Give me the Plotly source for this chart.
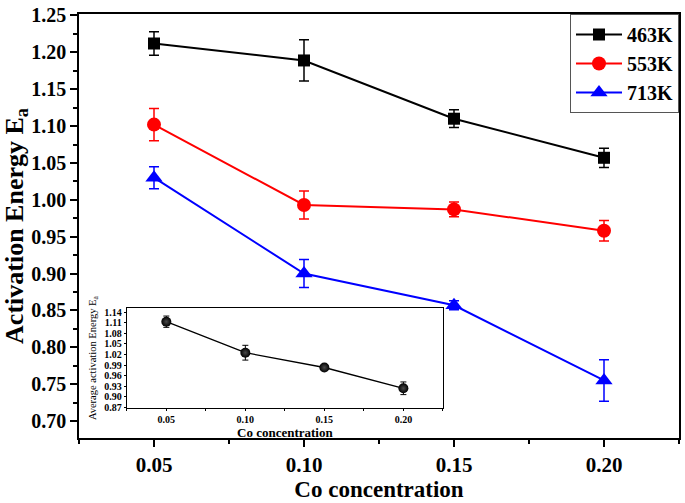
import plotly.graph_objects as go

# ---- data ----
co_conc = [0.05, 0.10, 0.15, 0.20]

ea_463 = [1.212, 1.189, 1.110, 1.057]
err_463 = [0.016, 0.028, 0.012, 0.013]

ea_553 = [1.102, 0.993, 0.987, 0.958]
err_553 = [0.022, 0.019, 0.010, 0.014]

ea_713 = [1.030, 0.900, 0.857, 0.755]
err_713 = [0.015, 0.019, 0.006, 0.028]

ea_avg = [1.113, 1.025, 0.983, 0.924]
err_avg = [0.016, 0.021, 0.005, 0.018]

series_names = ["463K", "553K", "713K"]
series_colors = ["#000000", "#ff0000", "#0000ff"]
series_symbols = ["square", "circle", "triangle-up"]
series_sizes = [12, 14, 15]

main_yticks = [0.70, 0.75, 0.80, 0.85, 0.90, 0.95, 1.00, 1.05, 1.10, 1.15, 1.20, 1.25]
main_xticks = [0.05, 0.10, 0.15, 0.20]
inset_yticks = [0.87, 0.90, 0.93, 0.96, 0.99, 1.02, 1.05, 1.08, 1.11, 1.14]

FONT = "Liberation Serif"

fig = go.Figure()

for name, vals, errs, col, sym, sz in zip(series_names, [ea_463, ea_553, ea_713],
                                          [err_463, err_553, err_713],
                                          series_colors, series_symbols, series_sizes):
    fig.add_trace(go.Scatter(
        x=co_conc, y=vals, name=name, mode="lines+markers",
        line=dict(color=col, width=2),
        marker=dict(symbol=sym, size=sz, color=col),
        error_y=dict(type="data", array=errs, visible=True, color=col,
                     thickness=1.5, width=5),
        xaxis="x", yaxis="y",
    ))

fig.add_trace(go.Scatter(
    x=co_conc, y=ea_avg, name="Average", mode="lines+markers",
    showlegend=False,
    line=dict(color="#000000", width=1.3),
    marker=dict(symbol="circle", size=10, color="#000000",
                gradient=dict(type="radial", color="#4a4a4a")),
    error_y=dict(type="data", array=err_avg, visible=True, color="#000000",
                 thickness=1, width=3),
    xaxis="x2", yaxis="y2",
))

axis_common = dict(showline=True, linecolor="black", mirror=True,
                   ticks="outside", tickcolor="black", showgrid=False, zeroline=False)

fig.update_layout(
    width=685, height=503,
    margin=dict(l=79, r=4, t=11, b=65),
    paper_bgcolor="white", plot_bgcolor="white",
    font=dict(family=FONT, color="black"),
    xaxis=dict(
        **axis_common, linewidth=1.5,
        range=[0.025, 0.225], tickvals=main_xticks,
        ticktext=[f"{v:.2f}" for v in main_xticks],
        ticklen=7, tickwidth=1.5,
        minor=dict(ticks="outside", ticklen=4, tickwidth=1.5, dtick=0.025,
                   tick0=0.025, tickcolor="black"),
        tickfont=dict(family=FONT, size=21, weight="bold"),
        title=dict(text="Co concentration", standoff=3,
                   font=dict(family=FONT, size=23, weight="bold")),
    ),
    yaxis=dict(
        **axis_common, linewidth=1.5,
        range=[0.677, 1.252], tickvals=main_yticks,
        ticktext=[f"{v:.2f}" for v in main_yticks],
        ticklen=7, tickwidth=1.5,
        minor=dict(ticks="outside", ticklen=4, tickwidth=1.5, dtick=0.025,
                   tick0=0.675, tickcolor="black"),
        tickfont=dict(family=FONT, size=20, weight="bold"),
        title=dict(text="Activation Energy E<sub>a</sub>", standoff=3,
                   font=dict(family=FONT, size=26, weight="bold")),
    ),
    xaxis2=dict(
        **axis_common, linewidth=1,
        domain=[0.0797, 0.6065], anchor="y2",
        range=[0.025, 0.225], tickvals=main_xticks,
        ticktext=[f"{v:.2f}" for v in main_xticks],
        ticklen=2, tickwidth=1,
        minor=dict(ticks="outside", ticklen=2, tickwidth=1, dtick=0.025,
                   tick0=0.025, tickcolor="black"),
        tickfont=dict(family=FONT, size=10, weight="bold"),
        title=dict(text="Co concentration", standoff=0,
                   font=dict(family=FONT, size=13, weight="bold")),
    ),
    yaxis2=dict(
        **axis_common, linewidth=1,
        domain=[0.0699, 0.3067], anchor="x2",
        range=[0.867, 1.152], tickvals=inset_yticks,
        ticktext=[f"{v:.2f}" for v in inset_yticks],
        ticklen=2, tickwidth=1,
        tickfont=dict(family=FONT, size=10, weight="bold"),
        title=dict(text="Average activation Energy E<sub>a</sub>", standoff=5,
                   font=dict(family=FONT, size=10.5)),
    ),
    legend=dict(
        x=1, y=1, xanchor="right", yanchor="top",
        bgcolor="white", bordercolor="#555555", borderwidth=1,
        font=dict(family=FONT, size=20, weight="bold"),
        itemwidth=46, tracegroupgap=0,
    ),
)

fig.write_html("out.html", config={"displayModeBar": False},
               post_script="document.body.style.margin='0';")
